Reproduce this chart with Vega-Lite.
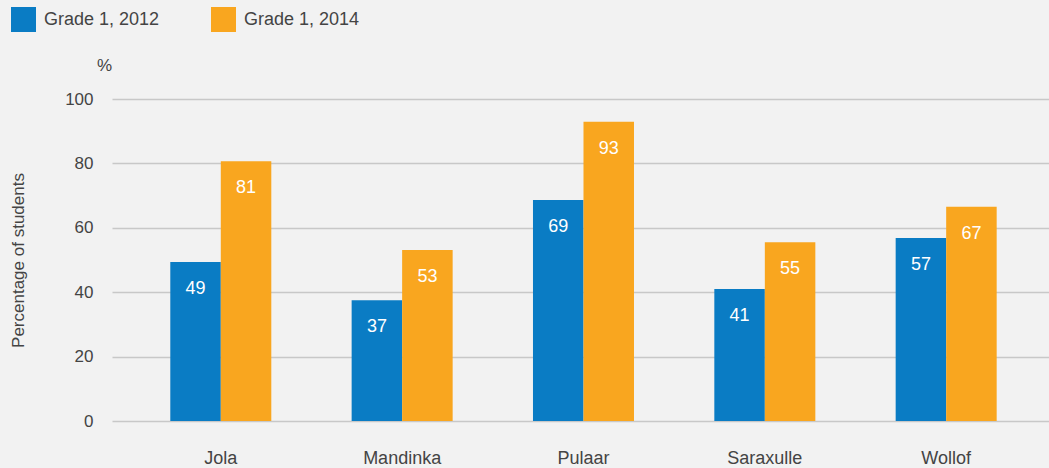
{
  "$schema": "https://vega.github.io/schema/vega-lite/v6.json",
  "width": 937,
  "height": 322,
  "autosize": {"type": "none"},
  "padding": {"left": 112, "top": 99, "right": 0, "bottom": 47},
  "background": "#f2f2f2",
  "config": {
    "view": {"stroke": null},
    "font": "Liberation Sans",
    "text": {"font": "Liberation Sans"}
  },
  "title": {
    "text": "%",
    "anchor": "start",
    "frame": "group",
    "orient": "top",
    "dx": -15,
    "offset": -68,
    "fontSize": 17,
    "fontWeight": "normal",
    "color": "#444444",
    "font": "Liberation Sans"
  },
  "data": {
    "values": [
      {"language": "Jola", "series": "Grade 1, 2012", "value": 49.4, "label": 49},
      {"language": "Jola", "series": "Grade 1, 2014", "value": 80.7, "label": 81},
      {"language": "Mandinka", "series": "Grade 1, 2012", "value": 37.5, "label": 37},
      {"language": "Mandinka", "series": "Grade 1, 2014", "value": 53.1, "label": 53},
      {"language": "Pulaar", "series": "Grade 1, 2012", "value": 68.6, "label": 69},
      {"language": "Pulaar", "series": "Grade 1, 2014", "value": 92.9, "label": 93},
      {"language": "Saraxulle", "series": "Grade 1, 2012", "value": 41.0, "label": 41},
      {"language": "Saraxulle", "series": "Grade 1, 2014", "value": 55.5, "label": 55},
      {"language": "Wollof", "series": "Grade 1, 2012", "value": 56.8, "label": 57},
      {"language": "Wollof", "series": "Grade 1, 2014", "value": 66.5, "label": 67}
    ]
  },
  "encoding": {
    "x": {
      "field": "language",
      "type": "nominal",
      "sort": null,
      "scale": {"paddingInner": 0.443, "paddingOuter": 0.305, "align": 0.527},
      "axis": {
        "title": null,
        "labelAngle": 0,
        "ticks": false,
        "domain": false,
        "labelPadding": 28,
        "labelFontSize": 18,
        "labelColor": "#444444",
        "labelFont": "Liberation Sans"
      }
    },
    "xOffset": {"field": "series", "type": "nominal", "scale": {"padding": 0}},
    "y": {
      "field": "value",
      "type": "quantitative",
      "scale": {"domain": [0, 100], "nice": false},
      "axis": {
        "title": "Percentage of students",
        "titleFontSize": 17,
        "titleFontWeight": "normal",
        "titleColor": "#444444",
        "titleFont": "Liberation Sans",
        "titlePadding": 37,
        "values": [0, 20, 40, 60, 80, 100],
        "ticks": false,
        "domain": false,
        "labelPadding": 19,
        "labelFontSize": 17,
        "labelColor": "#444444",
        "labelFont": "Liberation Sans",
        "gridColor": "#c8c8c8",
        "gridWidth": 1.5
      }
    }
  },
  "layer": [
    {
      "mark": {"type": "bar"},
      "encoding": {
        "color": {
          "field": "series",
          "type": "nominal",
          "scale": {"domain": ["Grade 1, 2012", "Grade 1, 2014"], "range": ["#0a7cc4", "#f9a61f"]},
          "legend": {
            "title": null,
            "orient": "none",
            "legendX": -101,
            "legendY": -92,
            "direction": "horizontal",
            "symbolType": "square",
            "symbolSize": 625,
            "symbolStrokeWidth": 0,
            "symbolOpacity": 1,
            "labelFontSize": 18,
            "labelColor": "#444444",
            "labelFont": "Liberation Sans",
            "labelOffset": 8,
            "columnPadding": 51
          }
        }
      }
    },
    {
      "mark": {"type": "text", "color": "white", "fontSize": 18, "baseline": "middle", "dy": 27, "font": "Liberation Sans"},
      "encoding": {
        "text": {"field": "label", "type": "quantitative"}
      }
    }
  ]
}
